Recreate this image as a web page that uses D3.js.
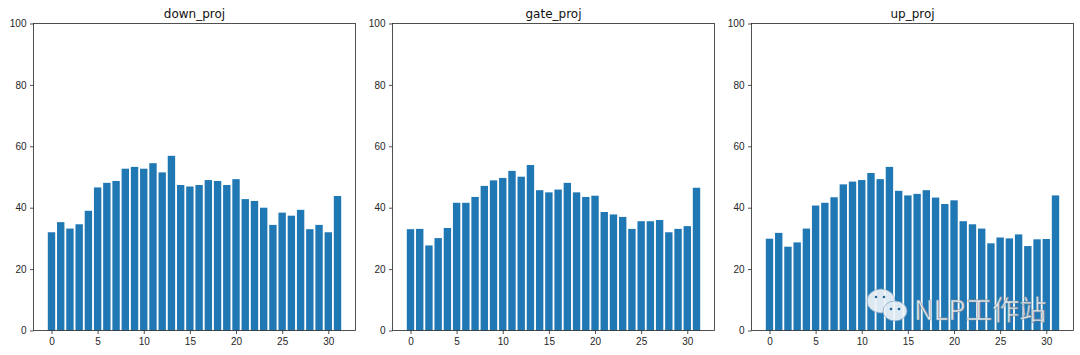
<!DOCTYPE html>
<html>
<head>
<meta charset="utf-8">
<script src="https://cdn.jsdelivr.net/npm/d3@7"></script>
<style>
  body { margin: 0; background: #fff; }
  svg { display: block; font-family: "DejaVu Sans", sans-serif; }
</style>
</head>
<body>
<div class="container"></div>
<script>
const titles = ['down_proj', 'gate_proj', 'up_proj']
const layers = d3.range(32)
const downProj = [32.0, 35.3, 33.2, 34.6, 39.0, 46.6, 48.1, 48.7, 52.7, 53.3, 52.7, 54.5, 51.5, 56.9, 47.4, 46.9, 47.4, 49.0, 48.7, 47.4, 49.3, 42.8, 42.2, 40.0, 34.4, 38.4, 37.4, 39.3, 33.0, 34.4, 32.0, 43.8]
const gateProj = [33.0, 33.1, 27.7, 30.1, 33.4, 41.6, 41.6, 43.5, 47.1, 48.9, 49.7, 52.0, 50.1, 53.9, 45.7, 45.0, 45.9, 48.1, 45.0, 43.5, 43.9, 38.6, 37.8, 37.0, 33.1, 35.6, 35.6, 36.0, 32.0, 33.1, 34.0, 46.5]
const upProj = [29.9, 31.8, 27.3, 28.7, 33.2, 40.7, 41.6, 43.4, 47.6, 48.5, 49.0, 51.3, 49.3, 53.3, 45.5, 44.0, 44.5, 45.7, 43.3, 41.2, 42.4, 35.6, 34.6, 33.2, 28.4, 30.3, 30.0, 31.3, 27.5, 29.7, 29.8, 44.0]
const yTicks = [0, 20, 40, 60, 80, 100]
const xTicks = [0, 5, 10, 15, 20, 25, 30]

const series = [downProj, gateProj, upProj]

const width = 1080
const height = 355
const panelLeft = [33.5, 392.5, 751.5]
const panelW = 322
const plotTop = 23.5
const plotBottom = 330.5

const svg = d3.select('.container')
  .append('svg')
  .attr('width', width)
  .attr('height', height)

series.forEach((vals, k) => {
  const x0 = panelLeft[k]
  const xScale = d3.scaleLinear()
    .domain([-1.95, 32.95])
    .range([x0, x0 + panelW])
  const yScale = d3.scaleLinear()
    .domain([0, 100])
    .range([plotBottom, plotTop])

  const g = svg.append('g')

  g.selectAll('rect')
    .data(vals)
    .enter()
    .append('rect')
    .attr('x', (d, i) => xScale(layers[i] - 0.4))
    .attr('width', xScale(0.8) - xScale(0))
    .attr('y', d => yScale(d))
    .attr('height', d => plotBottom - yScale(d))
    .attr('fill', '#1f77b4')

  const xAxis = d3.axisBottom(xScale).tickValues(xTicks).tickSize(3.5).tickPadding(3.5)
  const yAxis = d3.axisLeft(yScale).tickValues(yTicks).tickSize(3.5).tickPadding(3.5)

  const gx = g.append('g')
    .attr('transform', `translate(0, ${plotBottom})`)
    .call(xAxis)
  const gy = g.append('g')
    .attr('transform', `translate(${x0}, 0)`)
    .call(yAxis)
  ;[gx, gy].forEach(a => {
    a.select('.domain').remove()
    a.selectAll('text').attr('font-size', 10).attr('fill', '#262626')
    a.selectAll('line').attr('stroke', '#262626').attr('stroke-width', 0.8)
  })

  // frame
  g.append('rect')
    .attr('x', x0)
    .attr('y', plotTop)
    .attr('width', panelW)
    .attr('height', plotBottom - plotTop)
    .attr('fill', 'none')
    .attr('stroke', '#262626')
    .attr('stroke-width', 0.8)

  g.append('text')
    .attr('x', x0 + panelW / 2)
    .attr('y', plotTop - 6)
    .attr('text-anchor', 'middle')
    .attr('font-size', 12)
    .attr('fill', '#111')
    .text(titles[k])
})

// watermark
const wm = svg.append('g').attr('opacity', 0.92)
const bubble = (cx, cy, rx, ry) => {
  wm.append('ellipse')
    .attr('cx', cx).attr('cy', cy).attr('rx', rx).attr('ry', ry)
    .attr('fill', '#eef3f8').attr('stroke', '#8aa9c4').attr('stroke-width', 0.8)
}
bubble(881, 301, 14, 12)
bubble(895, 311, 12, 10)
;[[876, 297], [884, 297], [891, 309], [899, 309]].forEach(p => {
  wm.append('circle').attr('cx', p[0]).attr('cy', p[1]).attr('r', 1.3).attr('fill', '#1f5f8f')
})
wm.append('text')
  .attr('x', 914)
  .attr('y', 320)
  .attr('font-family', '"Noto Sans CJK SC", "DejaVu Sans", sans-serif')
  .attr('font-size', 27)
  .attr('fill', '#f4f4f4')
  .attr('stroke', '#7a8a99')
  .attr('stroke-width', 0.6)
  .text('NLP工作站')
</script>
</body>
</html>
